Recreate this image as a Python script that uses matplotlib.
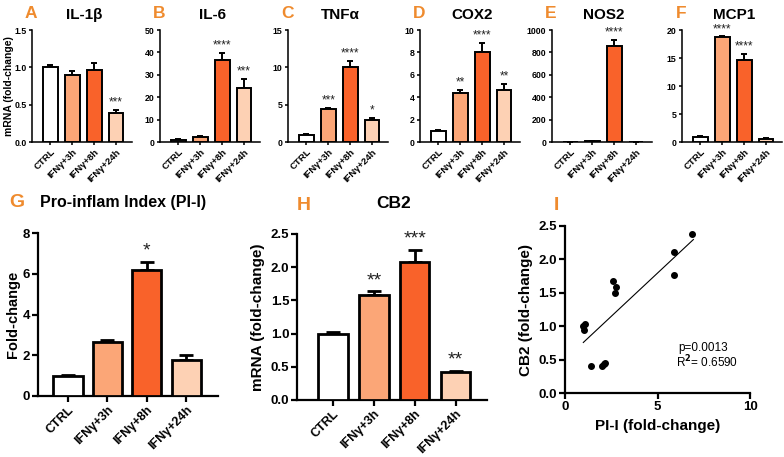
import matplotlib
matplotlib.use("Agg")
import matplotlib.pyplot as plt
import numpy as np

plt.rcParams['font.family'] = ['Liberation Sans', 'DejaVu Sans']
plt.rcParams['font.weight'] = 'bold'

groups = ["CTRL", "IFNγ+3h", "IFNγ+8h", "IFNγ+24h"]
colors = ["#FFFFFF", "#FBA677", "#F9622A", "#FDD1B4"]
letter_color = "#EF8B2E"

# top row panels
il1b_mean = [1.00, 0.90, 0.97, 0.39]
il1b_err = [0.03, 0.05, 0.09, 0.04]
il1b_stars = ["", "", "", "***"]

il6_mean = [0.8, 2.2, 36.5, 24.0]
il6_err = [0.4, 0.3, 3.4, 4.2]
il6_stars = ["", "", "****", "***"]

tnf_mean = [1.0, 4.4, 10.1, 2.9]
tnf_err = [0.12, 0.15, 0.8, 0.35]
tnf_stars = ["", "***", "****", "*"]

cox2_mean = [1.0, 4.35, 8.05, 4.65]
cox2_err = [0.1, 0.3, 0.8, 0.55]
cox2_stars = ["", "**", "****", "**"]

nos2_mean = [1.0, 10.0, 860.0, 2.0]
nos2_err = [0.5, 3.0, 55.0, 1.0]
nos2_stars = ["", "", "****", ""]

mcp1_mean = [0.95, 18.7, 14.6, 0.45]
mcp1_err = [0.15, 0.15, 1.2, 0.2]
mcp1_stars = ["", "****", "****", ""]

# bottom row
pii_mean = [1.0, 2.65, 6.2, 1.78]
pii_err = [0.05, 0.08, 0.4, 0.25]
pii_stars = ["", "", "*", ""]

cb2_mean = [1.0, 1.58, 2.08, 0.42]
cb2_err = [0.03, 0.06, 0.18, 0.02]
cb2_stars = ["", "**", "***", "**"]

# scatter (PI-I vs CB2)
sc_x = [6.85, 5.87, 5.87, 2.58, 2.76, 2.72, 1.08, 0.95, 1.03, 1.39, 1.98, 2.11, 2.18]
sc_y = [2.375, 2.11, 1.77, 1.68, 1.58, 1.49, 1.036, 1.006, 0.946, 0.408, 0.408, 0.438, 0.448]
fit_slope = 0.259
fit_intercept = 0.50
fit_xrange = [0.99, 6.94]

W, H = 784, 457
fig = plt.figure(figsize=(W / 100, H / 100), dpi=100)


def ax_px(x0, y_top, x1, y_bot):
    return fig.add_axes([x0 / W, 1 - y_bot / H, (x1 - x0) / W, (y_bot - y_top) / H])


def bar_panel(ax, means, errs, stars, ylim, yticks, ytlabels, xlim, width, lw, fs_tick, fs_xtick, fs_star, capsize, tick_len):
    x = np.arange(len(means))
    ax.bar(x, means, width=width, color=colors, edgecolor="black", linewidth=lw, zorder=3)
    ax.errorbar(x, means, yerr=[np.zeros(len(errs)), errs], fmt="none", ecolor="black",
                elinewidth=lw, capsize=capsize, capthick=lw, zorder=2)
    span = ylim[1] - ylim[0]
    for xi, m, e, s in zip(x, means, errs, stars):
        if s:
            ax.text(xi, m + e + span * 0.012, s, ha="center", va="bottom", fontsize=fs_star,
                    fontweight="normal", color="#222222")
    ax.set_ylim(*ylim)
    ax.set_xlim(*xlim)
    ax.set_yticks(yticks)
    ax.set_yticklabels(ytlabels, fontsize=fs_tick, fontweight="bold")
    ax.set_xticks(x)
    ax.set_xticklabels(groups, rotation=45, ha="right", rotation_mode="anchor",
                       fontsize=fs_xtick, fontweight="bold")
    for sp in ["top", "right"]:
        ax.spines[sp].set_visible(False)
    for sp in ["left", "bottom"]:
        ax.spines[sp].set_linewidth(lw * 0.8)
    ax.tick_params(axis="both", length=tick_len, width=lw * 0.8, direction="out", pad=1.5)


top_specs = [
    ("A", "IL-1β", il1b_mean, il1b_err, il1b_stars, (0, 1.5), [0, 0.5, 1.0, 1.5], ["0.0", "0.5", "1.0", "1.5"], 32),
    ("B", "IL-6", il6_mean, il6_err, il6_stars, (0, 50), [0, 10, 20, 30, 40, 50], None, 160),
    ("C", "TNFα", tnf_mean, tnf_err, tnf_stars, (0, 15), [0, 5, 10, 15], None, 288),
    ("D", "COX2", cox2_mean, cox2_err, cox2_stars, (0, 10), [0, 2, 4, 6, 8, 10], None, 420),
    ("E", "NOS2", nos2_mean, nos2_err, nos2_stars, (0, 1000), [0, 200, 400, 600, 800, 1000], None, 552),
    ("F", "MCP1", mcp1_mean, mcp1_err, mcp1_stars, (0, 20), [0, 5, 10, 15, 20], None, 682),
]

for letter, title, m, e, s, ylim, yt, ytl, x0 in top_specs:
    ax = ax_px(x0, 30, x0 + 100, 142)
    labels = ytl if ytl is not None else [str(v) for v in yt]
    bar_panel(ax, m, e, s, ylim, yt, labels, (-0.84, 3.73), 0.68, 1.4, 6.3, 6.8, 8.5, 2.5, 2.5)
    fig.text((x0 - 1) / W, 1 - 14 / H, letter, color=letter_color, fontsize=12.5, fontweight="bold",
             ha="center", va="center")
    fig.text((x0 + 52) / W, 1 - 15 / H, title, color="black", fontsize=11, fontweight="bold",
             ha="center", va="center")

fig.text(9 / W, 1 - 86 / H, "mRNA (fold-change)", rotation=90, fontsize=7.5, fontweight="bold",
         ha="center", va="center")

# G panel
axg = ax_px(38, 233, 218, 396)
bar_panel(axg, pii_mean, pii_err, pii_stars, (0, 8), [0, 2, 4, 6, 8], ["0", "2", "4", "6", "8"],
          (-0.76, 3.81), 0.74, 2.0, 9.5, 9, 14, 5, 4)
axg.set_ylabel("Fold-change", fontsize=10.5, fontweight="bold", labelpad=2)
fig.text(17 / W, 1 - 203 / H, "G", color=letter_color, fontsize=14, fontweight="bold", ha="center", va="center")
fig.text(123 / W, 1 - 203 / H, "Pro-inflam Index (PI-I)", fontsize=11.5, fontweight="bold", ha="center", va="center")

# H panel
axh = ax_px(297, 234, 487, 400)
bar_panel(axh, cb2_mean, cb2_err, cb2_stars, (0, 2.5), [0, 0.5, 1.0, 1.5, 2.0, 2.5],
          ["0.0", "0.5", "1.0", "1.5", "2.0", "2.5"], (-0.88, 3.77), 0.72, 2.0, 9.5, 9, 14, 5, 4)
axh.set_ylabel("mRNA (fold-change)", fontsize=11, fontweight="bold", labelpad=4)
fig.text(304 / W, 1 - 205 / H, "H", color=letter_color, fontsize=14, fontweight="bold", ha="center", va="center")
fig.text(394 / W, 1 - 204 / H, "CB2", fontsize=12.5, fontweight="bold", ha="center", va="center")

# I panel
axi = ax_px(565, 226, 750, 393)
axi.scatter(sc_x, sc_y, s=16, color="black", zorder=3)
fx = np.array(fit_xrange)
axi.plot(fx, fit_slope * fx + fit_intercept, color="black", linewidth=0.8)
axi.set_xlim(0, 10)
axi.set_ylim(0, 2.5)
axi.set_xticks([0, 5, 10])
axi.set_xticklabels(["0", "5", "10"], fontsize=9.5, fontweight="bold")
axi.set_yticks([0, 0.5, 1.0, 1.5, 2.0, 2.5])
axi.set_yticklabels(["0.0", "0.5", "1.0", "1.5", "2.0", "2.5"], fontsize=9.5, fontweight="bold")
for sp in ["top", "right"]:
    axi.spines[sp].set_visible(False)
for sp in ["left", "bottom"]:
    axi.spines[sp].set_linewidth(1.6)
axi.tick_params(axis="both", length=4, width=1.6, pad=2)
axi.set_xlabel("PI-I (fold-change)", fontsize=11, fontweight="bold", labelpad=4)
axi.set_ylabel("CB2 (fold-change)", fontsize=11, fontweight="bold", labelpad=4)
axi.text(6.1, 0.68, "p=0.0013", fontsize=8.5, fontweight="normal", ha="left", va="center")
axi.text(5.98, 0.46, "R$^2$= 0.6590", fontsize=8.5, fontweight="normal", ha="left", va="center")
fig.text(556 / W, 1 - 205 / H, "I", color=letter_color, fontsize=14, fontweight="bold", ha="center", va="center")

fig.savefig("out.png", dpi=100)
